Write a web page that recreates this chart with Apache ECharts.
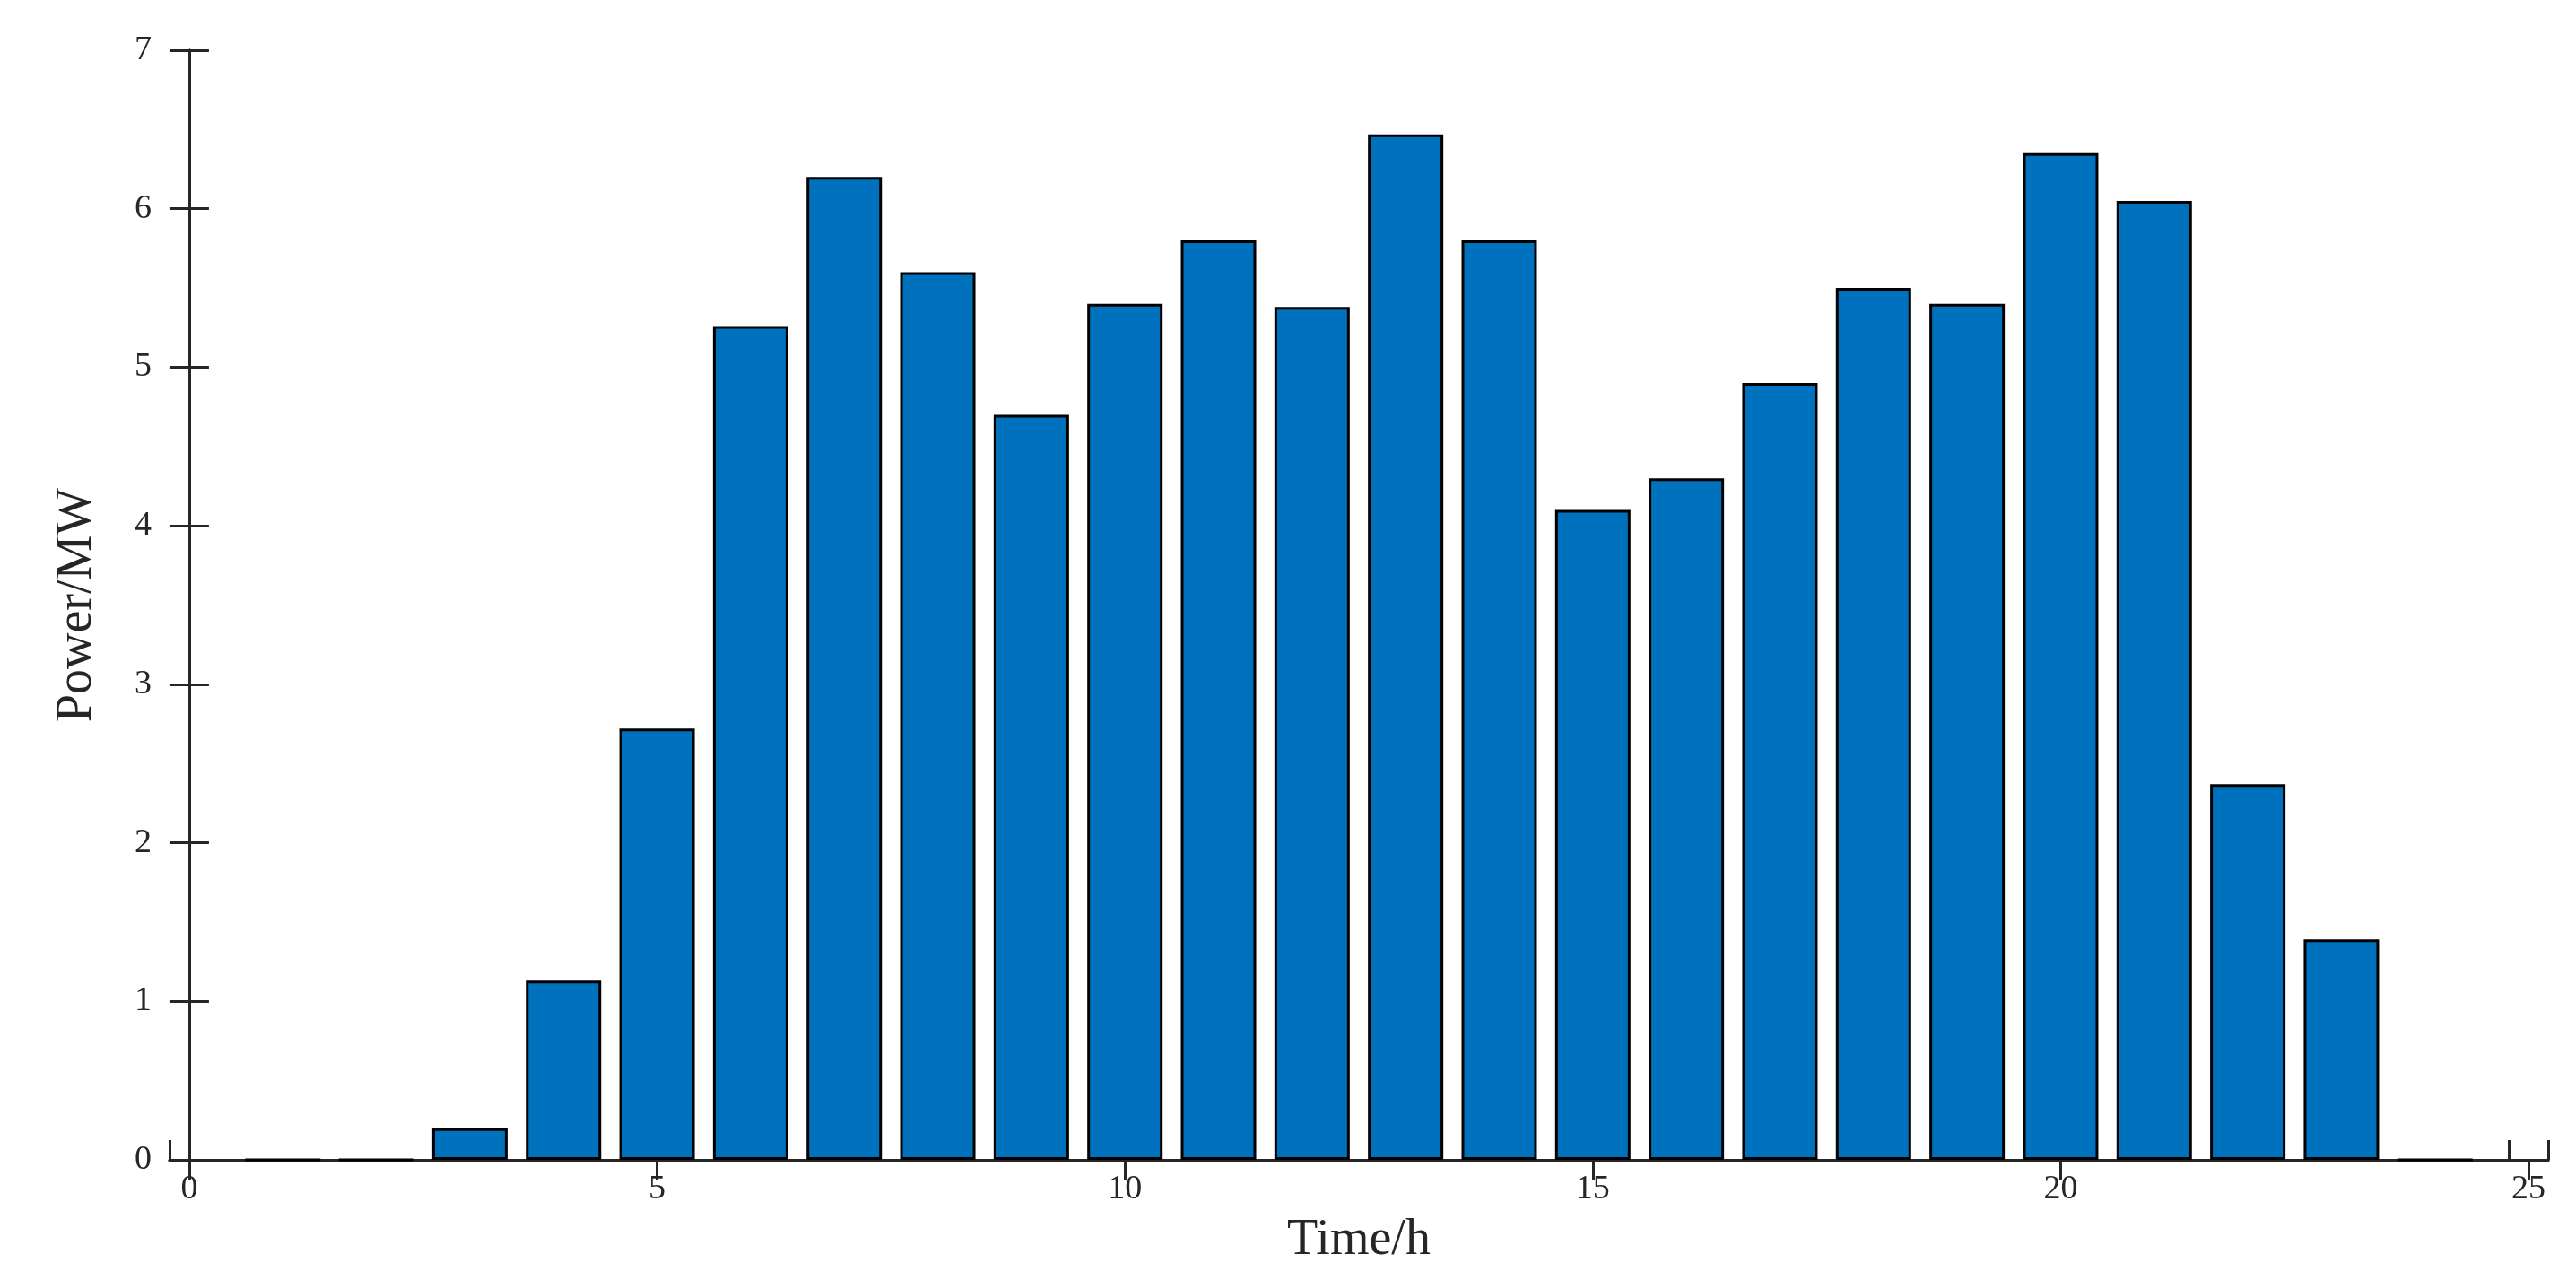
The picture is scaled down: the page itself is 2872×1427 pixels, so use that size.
<!DOCTYPE html>
<html>
<head>
<meta charset="utf-8">
<script src="https://cdn.jsdelivr.net/npm/echarts@6/dist/echarts.min.js"></script>
<style>html,body{margin:0;padding:0;background:#fff}#c{width:2872px;height:1427px}</style>
</head>
<body>
<div id="c"></div>
<script>
var hours = [1,2,3,4,5,6,7,8,9,10,11,12,13,14,15,16,17,18,19,20,21,22,23,24];
var power = [0,0,0.2,1.13,2.72,5.26,6.2,5.6,4.7,5.4,5.8,5.38,6.47,5.8,4.1,4.3,4.9,5.5,5.4,6.35,6.05,2.37,1.39,0];

var chart = echarts.init(document.getElementById('c'));
var font = 'Liberation Serif';
var axisLine = {show: true, lineStyle: {color: '#262626', width: 3}};
var tick = {show: true, inside: true, length: 22, lineStyle: {color: '#262626', width: 3}};

chart.setOption({
    backgroundColor: '#fff',
    animation: false,
    grid: {left: 189, right: 31, top: 56, bottom: 134},
    xAxis: [{
        type: 'value', min: -0.21, max: 25.21, interval: 5,
        name: 'Time/h', nameLocation: 'middle', nameGap: 62,
        nameTextStyle: {fontFamily: font, fontSize: 56, color: '#262626'},
        axisLine: axisLine, axisTick: tick, splitLine: {show: false},
        axisLabel: {fontFamily: font, fontSize: 38, color: '#262626', margin: 14,
            customValues: [0,5,10,15,20,25]},
        customValues: [0,5,10,15,20,25]
    }, {
        type: 'value', position: 'top', min: -0.21, max: 25.21,
        axisLine: axisLine, axisTick: Object.assign({customValues: [0,5,10,15,20,25]}, tick),
        axisLabel: {show: false}, splitLine: {show: false}
    }],
    yAxis: [{
        type: 'value', min: 0, max: 7, interval: 1,
        name: 'Power/MW', nameLocation: 'middle', nameGap: 75,
        nameTextStyle: {fontFamily: font, fontSize: 56, color: '#262626'},
        axisLine: axisLine, axisTick: tick, splitLine: {show: false},
        axisLabel: {fontFamily: font, fontSize: 38, color: '#262626', margin: 20}
    }, {
        type: 'value', position: 'right', min: 0, max: 7, interval: 1,
        axisLine: axisLine, axisTick: tick, axisLabel: {show: false}, splitLine: {show: false}
    }],
    series: [{
        type: 'bar',
        barWidth: 84,
        data: hours.map(function (h, i) { return [h, power[i]]; }),
        itemStyle: {color: '#0072BD', borderColor: '#000', borderWidth: 3}
    }]
});
</script>
</body>
</html>
